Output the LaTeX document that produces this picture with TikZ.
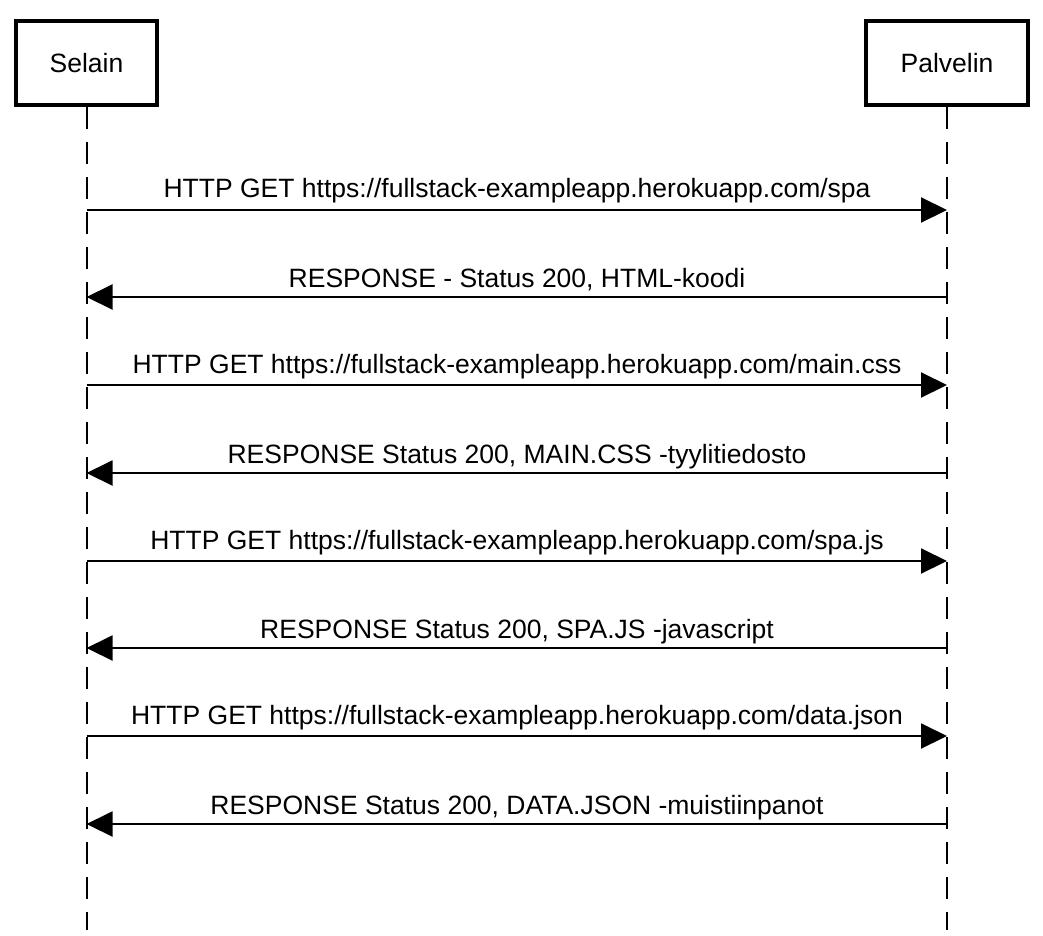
\documentclass[tikz,border=0pt]{standalone}
\usepackage{fontspec}
\setmainfont{Liberation Sans}
\usetikzlibrary{arrows.meta}
\begin{document}
\begin{tikzpicture}[x=1pt,y=-1pt,
  actor/.style={draw,line width=4pt,minimum width=#1,minimum height=84pt,inner sep=0pt,font=\fontsize{26.5}{31}\selectfont},
  lifeline/.style={line width=2pt,dash pattern=on 22pt off 13pt},
  msg/.style={line width=2pt,-{Triangle[length=26pt,width=25pt]}},
  lbl/.style={font=\fontsize{26.5}{31}\selectfont,anchor=base,inner sep=0pt}]
\useasboundingbox (0,0) rectangle (1043,935);
\node[actor=141pt] (sel) at (86.5,63) {Selain};
\node[actor=162pt] (pal) at (947,63) {Palvelin};
\coordinate (selend) at (86.5,930);
\coordinate (palend) at (947,930);
\draw[lifeline] (sel.south) -- (selend);
\draw[lifeline] (pal.south) -- (palend);
\foreach \i/\y in {1/210,2/297,3/385,4/473,5/561,6/648,7/736,8/824}{
  \coordinate (s\i) at (86.5,\y);
  \coordinate (p\i) at (947,\y);
}
\draw[msg] (s1) -- (p1);
\node[lbl] (m1) at (517,197) {HTTP GET https://fullstack-exampleapp.herokuapp.com/spa};
\draw[msg] (p2) -- (s2);
\node[lbl] (m2) at (517,287) {RESPONSE - Status 200, HTML-koodi};
\draw[msg] (s3) -- (p3);
\node[lbl] (m3) at (517,373) {HTTP GET https://fullstack-exampleapp.herokuapp.com/main.css};
\draw[msg] (p4) -- (s4);
\node[lbl] (m4) at (517,463) {RESPONSE Status 200, MAIN.CSS -tyylitiedosto};
\draw[msg] (s5) -- (p5);
\node[lbl] (m5) at (517,549) {HTTP GET https://fullstack-exampleapp.herokuapp.com/spa.js};
\draw[msg] (p6) -- (s6);
\node[lbl] (m6) at (517,638) {RESPONSE Status 200, SPA.JS -javascript};
\draw[msg] (s7) -- (p7);
\node[lbl] (m7) at (517,724) {HTTP GET https://fullstack-exampleapp.herokuapp.com/data.json};
\draw[msg] (p8) -- (s8);
\node[lbl] (m8) at (517,814) {RESPONSE Status 200, DATA.JSON -muistiinpanot};
\end{tikzpicture}
\end{document}
